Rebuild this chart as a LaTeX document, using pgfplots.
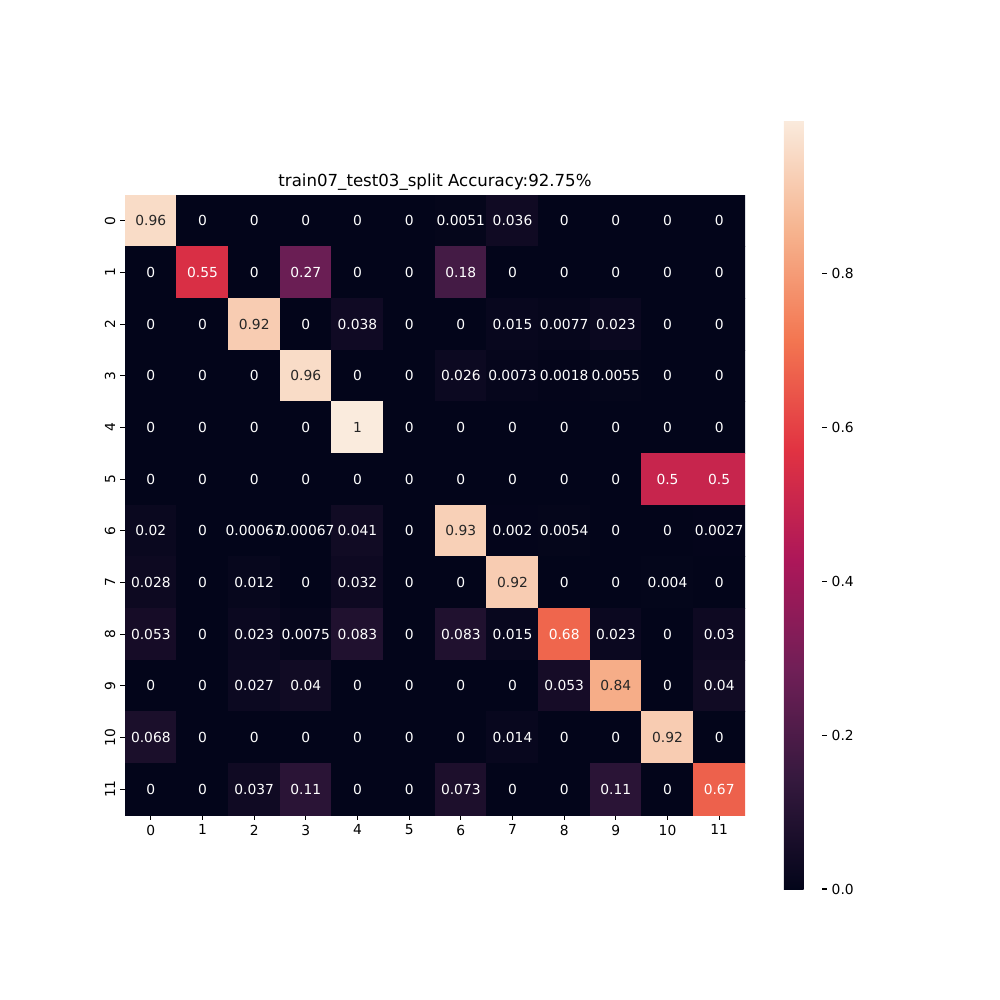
\documentclass[border=0pt]{standalone}
\usepackage{fontspec}
\setmainfont{DejaVu Sans}
\usepackage{pgfplots}
\pgfplotsset{compat=1.18}
\pgfplotsset{colormap={rocket}{rgb255=(3,5,26) rgb255=(53,25,62) rgb255=(112,31,87) rgb255=(173,23,89) rgb255=(225,51,66) rgb255=(243,118,81) rgb255=(246,180,143) rgb255=(250,235,221)}}
\definecolor{annodark}{RGB}{38,38,38}
\begin{document}
\begin{tikzpicture}
\useasboundingbox (0,0) rectangle (720bp,-720bp);
\begin{axis}[
  at={(90bp,-586.8bp)}, anchor=south west,
  scale only axis, width=446.4bp, height=446.4bp,
  xmin=-0.5, xmax=11.5, ymin=-0.5, ymax=11.5,
  y dir=reverse,
  axis line style={draw=none},
  xtick={0,...,11}, ytick={0,...,11},
  tick pos=left, tick align=outside,
  major tick length=3.5bp,
  tick style={black, line width=0.8bp},
  /pgf/number format/assume math mode=true,
  ticklabel style={font=\fontsize{10}{12}\selectfont},
  yticklabel style={rotate=90, anchor=south},
  colormap name=rocket,
  point meta min=0, point meta max=1,
  title={train07\_test03\_split Accuracy:92.75\%},
  title style={font=\fontsize{12}{14}\selectfont, at={(0.5,1)}, anchor=base, yshift=0bp},
  colorbar,
  colorbar style={
    at={(parent axis.south east)}, anchor=south west,
    xshift=19.54bp, yshift=-53.28bp,
    scale only axis, width=27.36bp, height=553.68bp,
    axis line style={draw=none},
    ytick={0,0.2,0.4,0.6,0.8},
    ytick pos=right, yticklabel pos=right,
    yticklabel style={font=\fontsize{10}{12}\selectfont, /pgf/number format/fixed, /pgf/number format/fixed zerofill, /pgf/number format/precision=1, /pgf/number format/assume math mode=true},
    tick align=outside, major tick length=3.5bp,
    tick style={black, line width=0.8bp},
  },
]
\addplot[matrix plot*, mesh/cols=12, mesh/ordering=x varies, point meta=explicit] table[meta=c] {
x y c
0 0 0.96
1 0 0
2 0 0
3 0 0
4 0 0
5 0 0
6 0 0.0051
7 0 0.036
8 0 0
9 0 0
10 0 0
11 0 0
0 1 0
1 1 0.55
2 1 0
3 1 0.27
4 1 0
5 1 0
6 1 0.18
7 1 0
8 1 0
9 1 0
10 1 0
11 1 0
0 2 0
1 2 0
2 2 0.92
3 2 0
4 2 0.038
5 2 0
6 2 0
7 2 0.015
8 2 0.0077
9 2 0.023
10 2 0
11 2 0
0 3 0
1 3 0
2 3 0
3 3 0.96
4 3 0
5 3 0
6 3 0.026
7 3 0.0073
8 3 0.0018
9 3 0.0055
10 3 0
11 3 0
0 4 0
1 4 0
2 4 0
3 4 0
4 4 1
5 4 0
6 4 0
7 4 0
8 4 0
9 4 0
10 4 0
11 4 0
0 5 0
1 5 0
2 5 0
3 5 0
4 5 0
5 5 0
6 5 0
7 5 0
8 5 0
9 5 0
10 5 0.5
11 5 0.5
0 6 0.02
1 6 0
2 6 0.00067
3 6 0.00067
4 6 0.041
5 6 0
6 6 0.93
7 6 0.002
8 6 0.0054
9 6 0
10 6 0
11 6 0.0027
0 7 0.028
1 7 0
2 7 0.012
3 7 0
4 7 0.032
5 7 0
6 7 0
7 7 0.92
8 7 0
9 7 0
10 7 0.004
11 7 0
0 8 0.053
1 8 0
2 8 0.023
3 8 0.0075
4 8 0.083
5 8 0
6 8 0.083
7 8 0.015
8 8 0.68
9 8 0.023
10 8 0
11 8 0.03
0 9 0
1 9 0
2 9 0.027
3 9 0.04
4 9 0
5 9 0
6 9 0
7 9 0
8 9 0.053
9 9 0.84
10 9 0
11 9 0.04
0 10 0.068
1 10 0
2 10 0
3 10 0
4 10 0
5 10 0
6 10 0
7 10 0.014
8 10 0
9 10 0
10 10 0.92
11 10 0
0 11 0
1 11 0
2 11 0.037
3 11 0.11
4 11 0
5 11 0
6 11 0.073
7 11 0
8 11 0
9 11 0.11
10 11 0
11 11 0.67
};
% dark annotations
\addplot[only marks, mark=none, nodes near coords, point meta=explicit symbolic,
  nodes near coords style={anchor=center, text=annodark, font=\fontsize{10}{12}\selectfont}] table[meta=l] {
x y l
0 0 0.96
2 2 0.92
3 3 0.96
4 4 1
6 6 0.93
7 7 0.92
9 9 0.84
10 10 0.92
};
% white annotations
\addplot[only marks, mark=none, nodes near coords, point meta=explicit symbolic,
  nodes near coords style={anchor=center, text=white, font=\fontsize{10}{12}\selectfont}] table[meta=l] {
x y l
1 0 0
2 0 0
3 0 0
4 0 0
5 0 0
6 0 0.0051
7 0 0.036
8 0 0
9 0 0
10 0 0
11 0 0
0 1 0
1 1 0.55
2 1 0
3 1 0.27
4 1 0
5 1 0
6 1 0.18
7 1 0
8 1 0
9 1 0
10 1 0
11 1 0
0 2 0
1 2 0
3 2 0
4 2 0.038
5 2 0
6 2 0
7 2 0.015
8 2 0.0077
9 2 0.023
10 2 0
11 2 0
0 3 0
1 3 0
2 3 0
4 3 0
5 3 0
6 3 0.026
7 3 0.0073
8 3 0.0018
9 3 0.0055
10 3 0
11 3 0
0 4 0
1 4 0
2 4 0
3 4 0
5 4 0
6 4 0
7 4 0
8 4 0
9 4 0
10 4 0
11 4 0
0 5 0
1 5 0
2 5 0
3 5 0
4 5 0
5 5 0
6 5 0
7 5 0
8 5 0
9 5 0
10 5 0.5
11 5 0.5
0 6 0.02
1 6 0
2 6 0.00067
3 6 0.00067
4 6 0.041
5 6 0
7 6 0.002
8 6 0.0054
9 6 0
10 6 0
11 6 0.0027
0 7 0.028
1 7 0
2 7 0.012
3 7 0
4 7 0.032
5 7 0
6 7 0
8 7 0
9 7 0
10 7 0.004
11 7 0
0 8 0.053
1 8 0
2 8 0.023
3 8 0.0075
4 8 0.083
5 8 0
6 8 0.083
7 8 0.015
8 8 0.68
9 8 0.023
10 8 0
11 8 0.03
0 9 0
1 9 0
2 9 0.027
3 9 0.04
4 9 0
5 9 0
6 9 0
7 9 0
8 9 0.053
10 9 0
11 9 0.04
0 10 0.068
1 10 0
2 10 0
3 10 0
4 10 0
5 10 0
6 10 0
7 10 0.014
8 10 0
9 10 0
11 10 0
0 11 0
1 11 0
2 11 0.037
3 11 0.11
4 11 0
5 11 0
6 11 0.073
7 11 0
8 11 0
9 11 0.11
10 11 0
11 11 0.67
};
\end{axis}
\end{tikzpicture}
\end{document}
